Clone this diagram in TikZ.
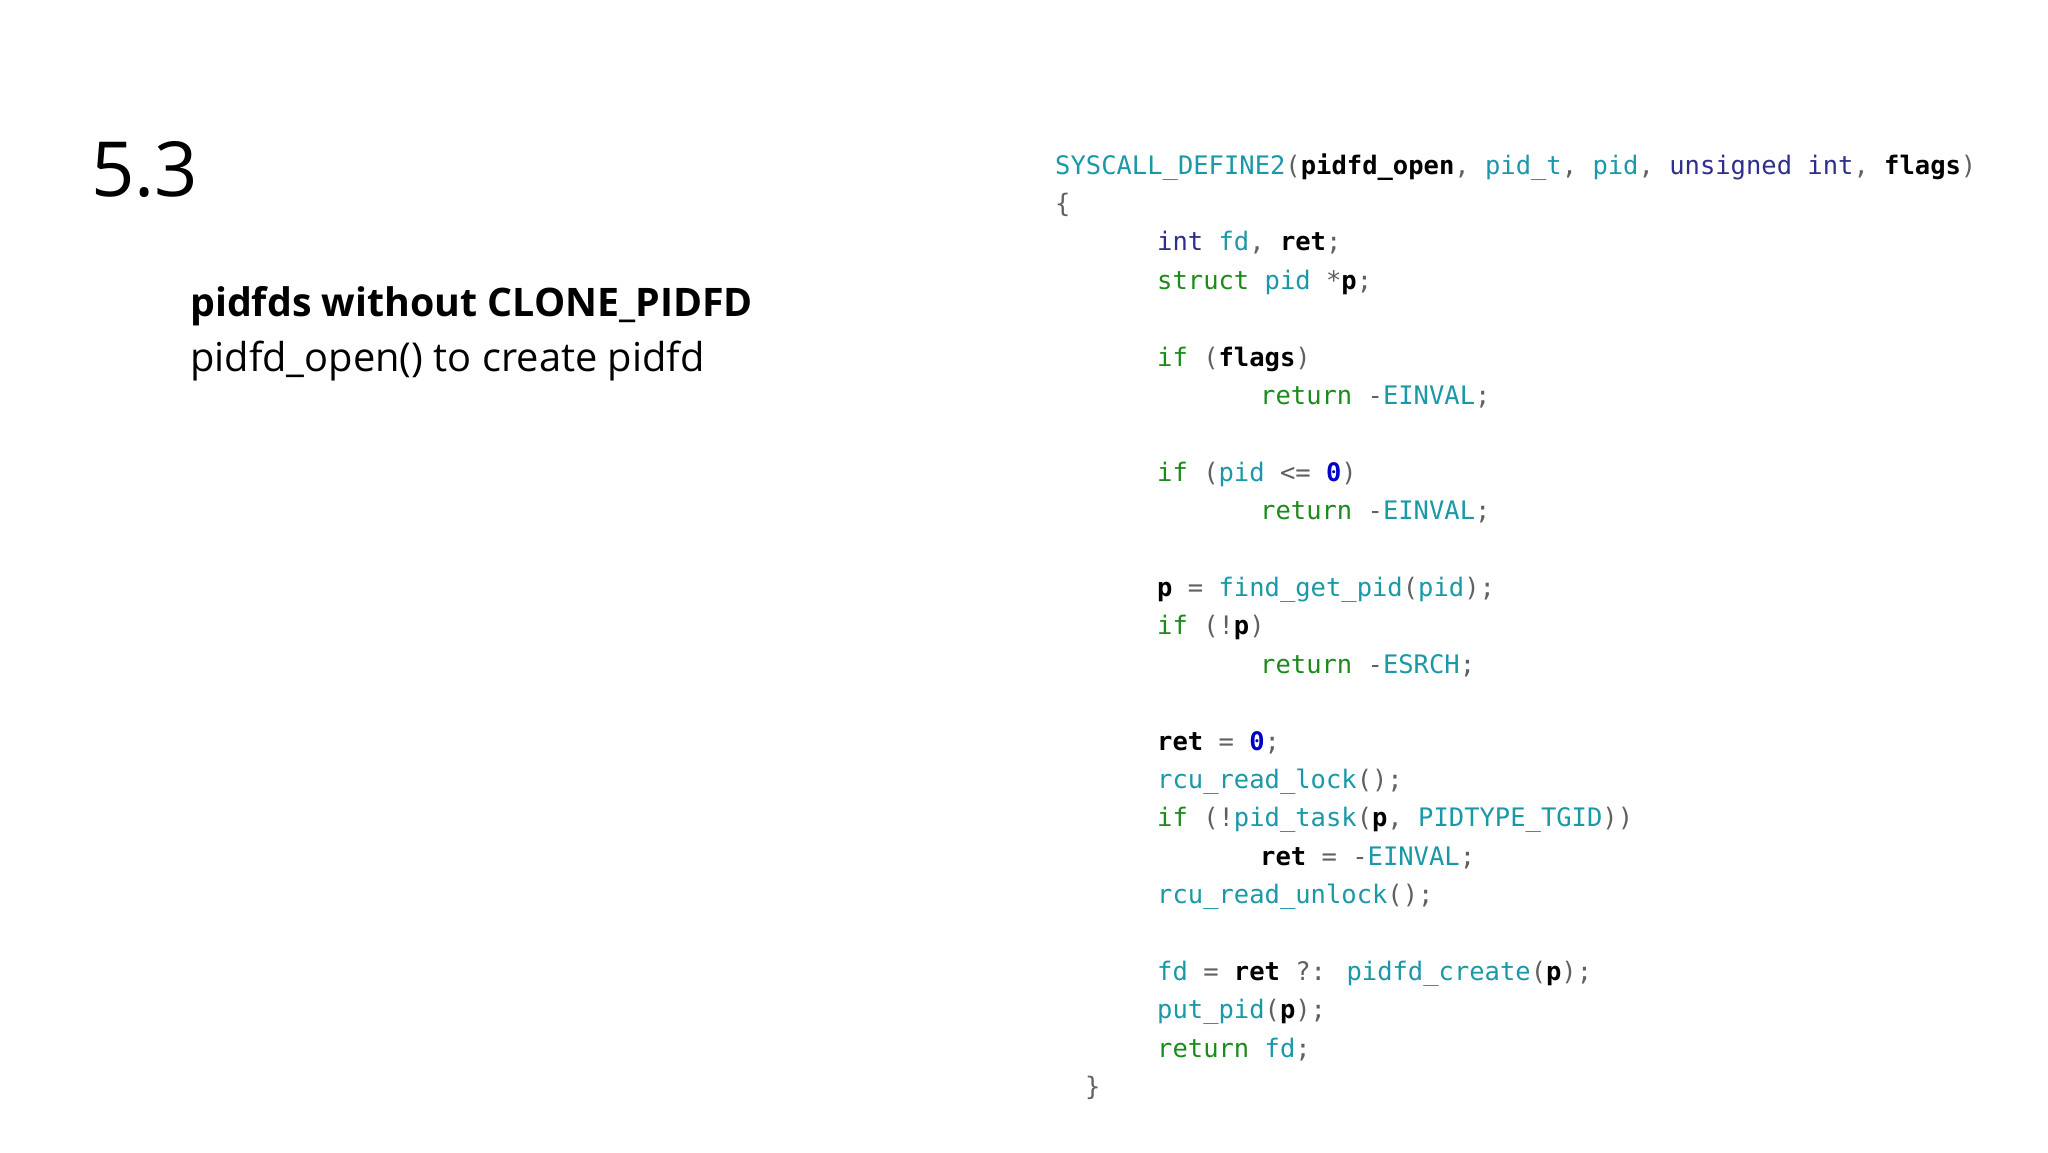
\documentclass[tikz,border=0pt]{standalone}
\usepackage{fontspec}
\setmainfont{Open Sans}
\newfontfamily\codefont{DejaVu Sans Mono}
\definecolor{cteal}{HTML}{1A98A8}
\definecolor{cind}{HTML}{2E2E8C}
\definecolor{cgrn}{HTML}{1C8A1C}
\definecolor{cgray}{HTML}{606060}
\definecolor{cnum}{HTML}{0000C8}
\newcommand{\kw}[1]{\textcolor{cgrn}{#1}}
\newcommand{\fn}[1]{\textcolor{cteal}{#1}}
\newcommand{\ty}[1]{\textcolor{cind}{#1}}
\newcommand{\idn}[1]{\textcolor{black}{\bfseries #1}}
\newcommand{\pu}[1]{\textcolor{cgray}{#1}}
\newcommand{\nm}[1]{\textcolor{cnum}{#1}}
\begin{document}
\begin{tikzpicture}[x=1pt,y=1pt,
  code/.style={anchor=base west,inner sep=0pt,font=\codefont\fontsize{25.5}{30}\selectfont}]
\useasboundingbox (0,0) rectangle (2048,-1152);
\node[anchor=base west,inner sep=0pt,font=\fontsize{76}{84}\selectfont] (num) at (91,-196) {5.3};
\node[anchor=base west,inner sep=0pt,font=\bfseries\fontsize{39.3}{44}\selectfont] (t1) at (190,-316) {pidfds without CLONE\_PIDFD};
\node[anchor=base west,inner sep=0pt,font=\fontsize{39.8}{44}\selectfont] (t2) at (190,-371) {pidfd\_open() to create pidfd};
\def\ca{1055}\def\cb{1157}\def\cc{1260}\def\cz{1085}
\node[code] (l1) at (\ca,-174) {\fn{SYSCALL\_DEFINE2}\pu{(}\idn{pidfd\_open}\pu{,} \fn{pid\_t}\pu{,} \fn{pid}\pu{,} \ty{unsigned} \ty{int}\pu{,} \idn{flags}\pu{)}};
\node[code] (l2) at (\ca,-212.4) {\pu{\{}};
\node[code] (l3) at (\cb,-250.8) {\ty{int} \fn{fd}\pu{,} \idn{ret}\pu{;}};
\node[code] (l4) at (\cb,-289.2) {\kw{struct} \fn{pid} \pu{*}\idn{p}\pu{;}};
\node[code] (l6) at (\cb,-366) {\kw{if} \pu{(}\idn{flags}\pu{)}};
\node[code] (l7) at (\cc,-404.4) {\kw{return} \pu{-}\fn{EINVAL}\pu{;}};
\node[code] (l9) at (\cb,-481.2) {\kw{if} \pu{(}\fn{pid} \pu{<=} \nm{\bfseries 0}\pu{)}};
\node[code] (l10) at (\cc,-519.6) {\kw{return} \pu{-}\fn{EINVAL}\pu{;}};
\node[code] (l12) at (\cb,-596.4) {\idn{p} \pu{=} \fn{find\_get\_pid}\pu{(}\fn{pid}\pu{);}};
\node[code] (l13) at (\cb,-634.8) {\kw{if} \pu{(!}\idn{p}\pu{)}};
\node[code] (l14) at (\cc,-673.2) {\kw{return} \pu{-}\fn{ESRCH}\pu{;}};
\node[code] (l16) at (\cb,-750) {\idn{ret} \pu{=} \nm{\bfseries 0}\pu{;}};
\node[code] (l17) at (\cb,-788.4) {\fn{rcu\_read\_lock}\pu{();}};
\node[code] (l18) at (\cb,-826.8) {\kw{if} \pu{(!}\fn{pid\_task}\pu{(}\idn{p}\pu{,} \fn{PIDTYPE\_TGID}\pu{))}};
\node[code] (l19) at (\cc,-865.2) {\idn{ret} \pu{=} \pu{-}\fn{EINVAL}\pu{;}};
\node[code] (l20) at (\cb,-903.6) {\fn{rcu\_read\_unlock}\pu{();}};
\node[code] (l22) at (\cb,-980.4) {\fn{fd} \pu{=} \idn{ret} \pu{?:} \fn{pidfd\_create}\pu{(}\idn{p}\pu{);}};
\node[code] (l23) at (\cb,-1018.8) {\fn{put\_pid}\pu{(}\idn{p}\pu{);}};
\node[code] (l24) at (\cb,-1057.2) {\kw{return} \fn{fd}\pu{;}};
\node[code] (l25) at (\cz,-1095.6) {\pu{\}}};
\end{tikzpicture}
\end{document}
